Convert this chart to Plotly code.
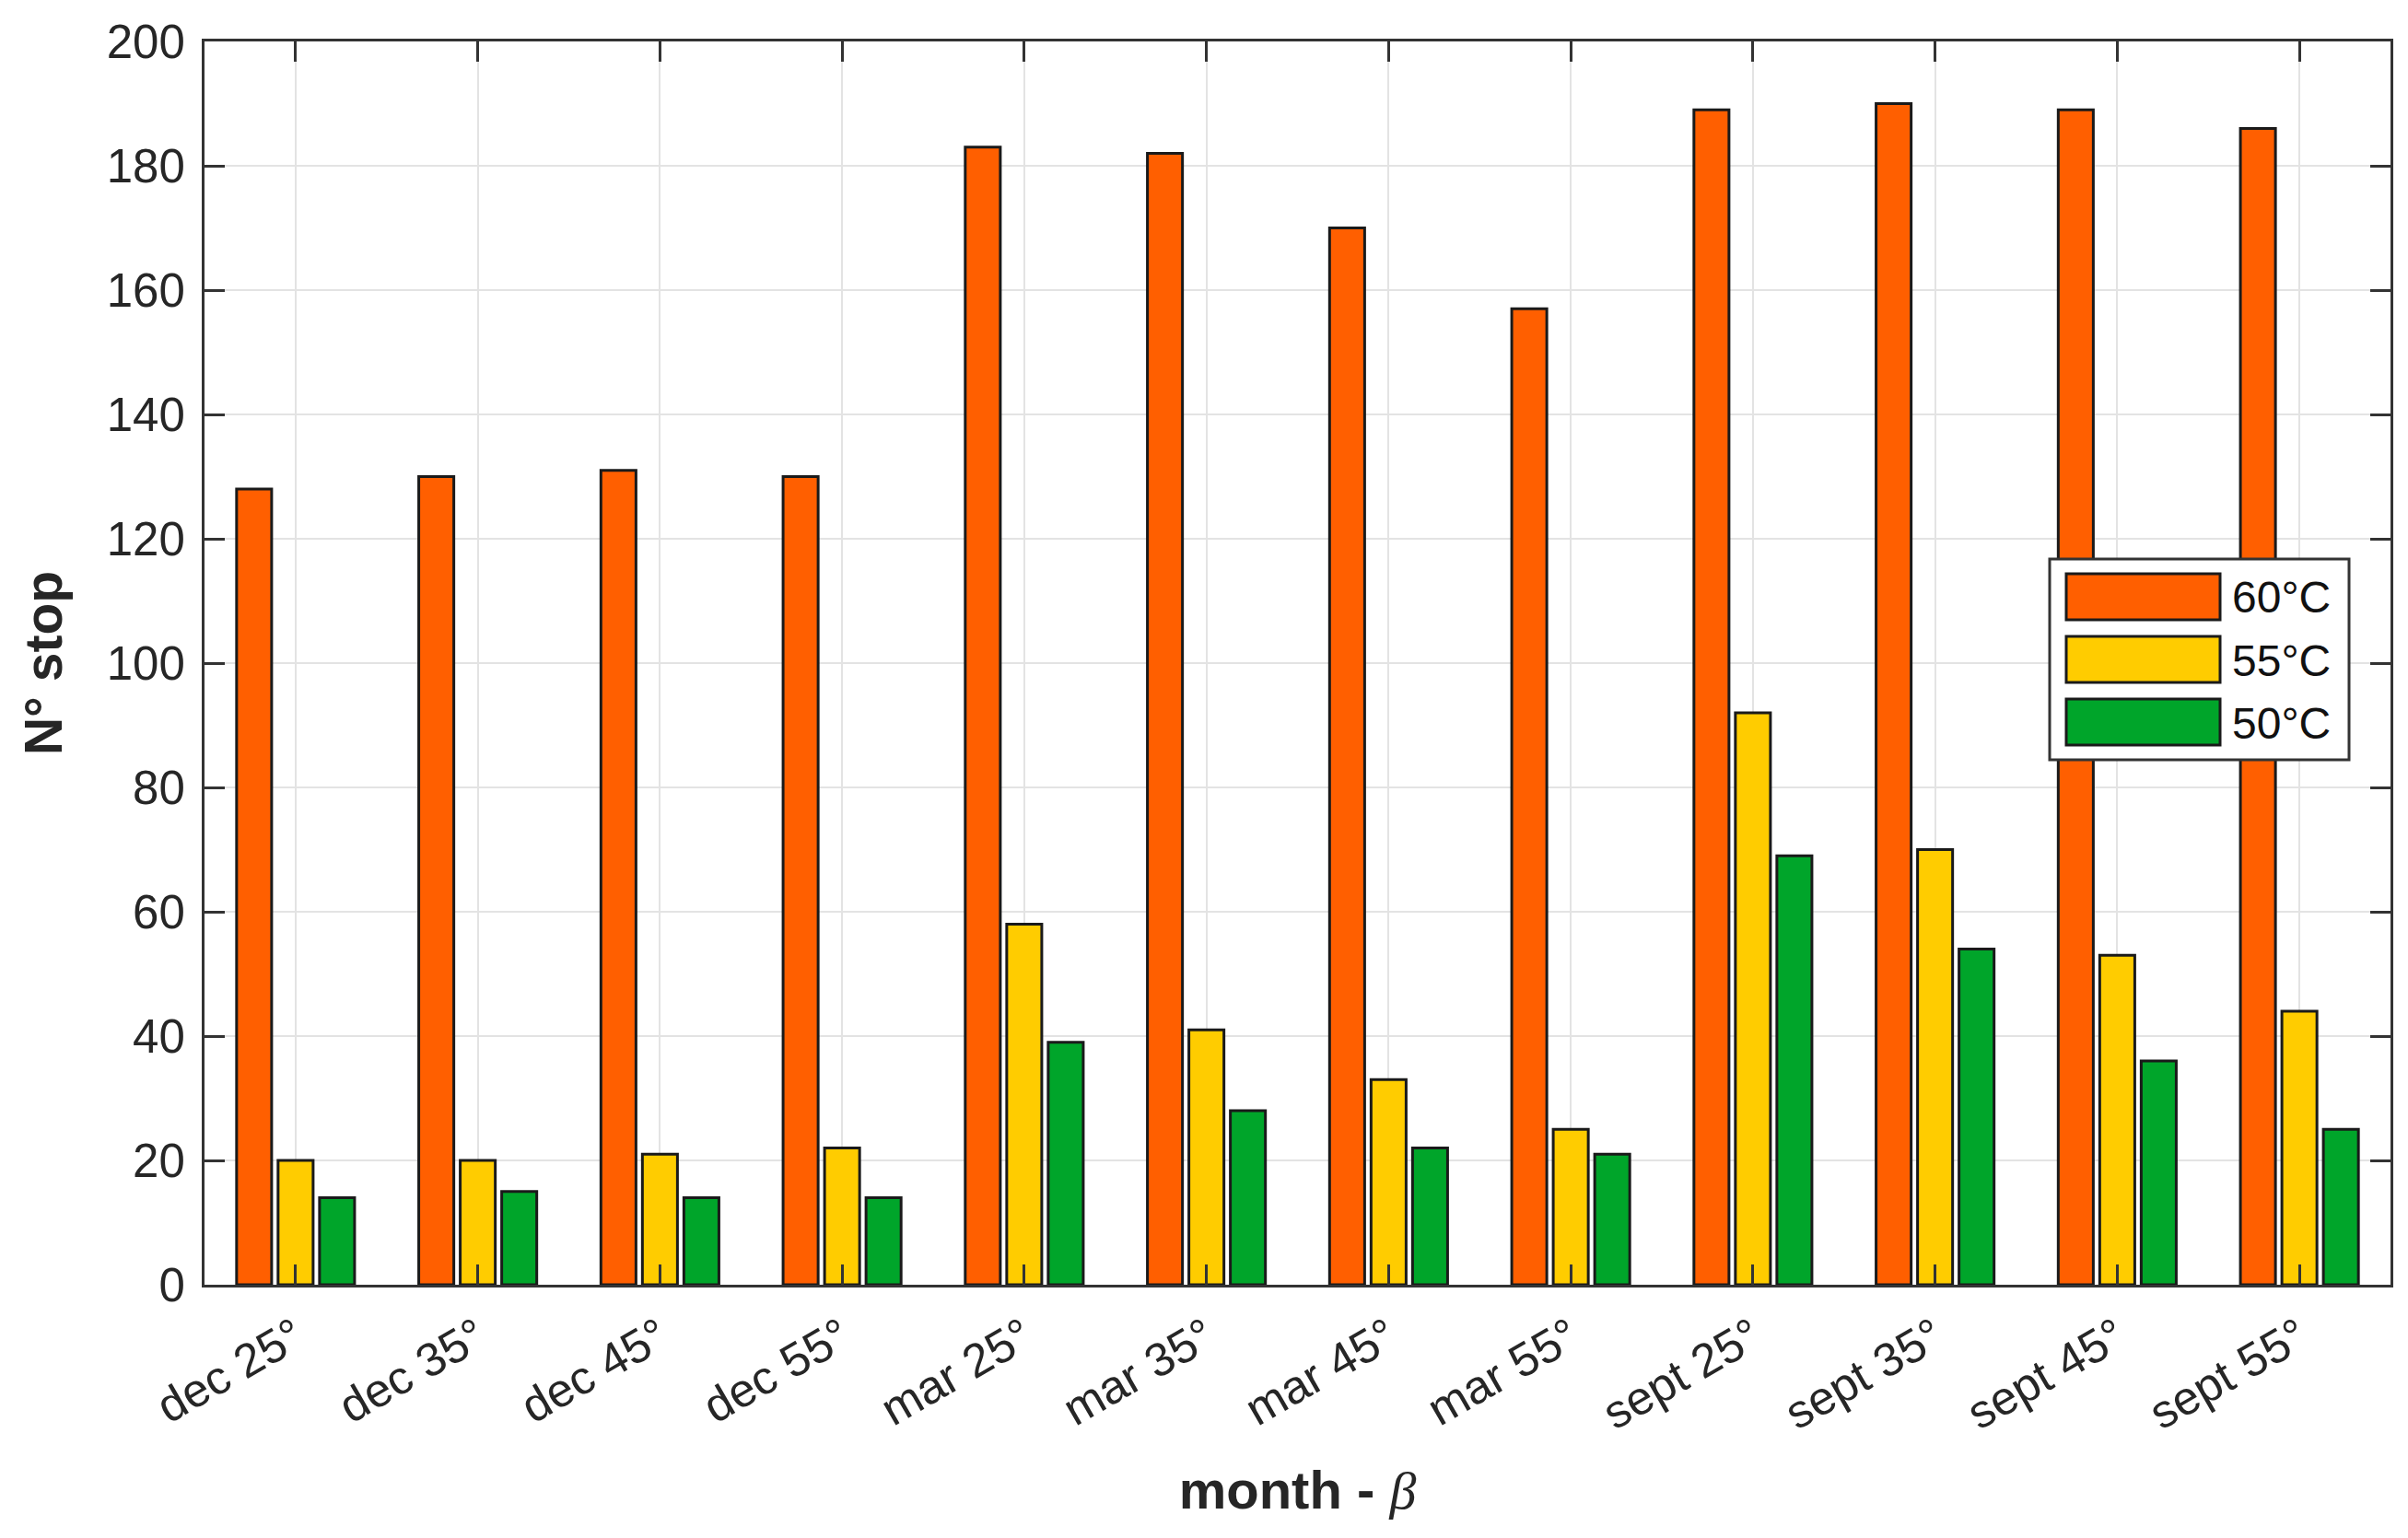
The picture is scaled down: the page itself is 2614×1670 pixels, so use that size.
import plotly.graph_objects as go

categories = ["dec 25°", "dec 35°", "dec 45°", "dec 55°",
              "mar 25°", "mar 35°", "mar 45°", "mar 55°",
              "sept 25°", "sept 35°", "sept 45°", "sept 55°"]
series_names = ["60°C", "55°C", "50°C"]
values_60 = [128, 130, 131, 130, 183, 182, 170, 157, 189, 190, 189, 186]
values_55 = [20, 20, 21, 22, 58, 41, 33, 25, 92, 70, 53, 44]
values_50 = [14, 15, 14, 14, 39, 28, 22, 21, 69, 54, 36, 25]
y_ticks = [0, 20, 40, 60, 80, 100, 120, 140, 160, 180, 200]

colors = ["#FF5F00", "#FFCC00", "#00A52A"]
series = [values_60, values_55, values_50]

W, H = 2614, 1670
L, R, T, B = 214, 27, 37, 283
FONT = "Liberation Sans, Arial, sans-serif"

fig = go.Figure()
for name, vals, col in zip(series_names, series, colors):
    fig.add_trace(go.Bar(
        x=categories, y=vals, name=name,
        marker=dict(color=col, line=dict(color="#1a1a1a", width=3)),
        showlegend=False,
    ))

axis_common = dict(
    showline=True, linecolor="#333333", linewidth=3, mirror="ticks",
    ticks="inside", ticklen=22, tickwidth=3, tickcolor="#333333",
    showgrid=True, gridcolor="#E3E3E3", gridwidth=2,
    zeroline=False,
    tickfont=dict(family=FONT, size=51, color="#262626"),
)

fig.update_layout(
    width=W, height=H,
    margin=dict(l=L, r=R, t=T, b=B, autoexpand=False),
    paper_bgcolor="white", plot_bgcolor="white",
    barmode="group", bargap=0.317, bargroupgap=0.155,
    font=dict(family=FONT, color="#262626"),
    xaxis=dict(
        **axis_common, tickangle=-30, type="category", automargin=False,
        ticklabelstandoff=4,
        title=dict(text="<b>month - </b><i><span style=\"font-family:Liberation Serif\">β</span></i>",
                   font=dict(family=FONT, size=58, color="#262626"), standoff=36),
    ),
    yaxis=dict(
        **axis_common, range=[0, 200], tickvals=y_ticks, automargin=False,
        ticklabelstandoff=8,
        title=dict(text="<b>N° stop</b>",
                   font=dict(family=FONT, size=57, color="#262626"), standoff=30),
    ),
)

# legend drawn in paper coordinates (pixel layout converted)
pw, ph = W - L - R, H - T - B
def px(X):
    return (X - L) / pw
def py(Y):
    return (H - B - Y) / ph

fig.add_shape(type="rect", xref="paper", yref="paper",
              x0=px(2217), x1=px(2542), y0=py(817), y1=py(599),
              line=dict(color="#333333", width=3), fillcolor="white", layer="above")
row_tops = [615, 683, 751]
for name, col, top in zip(series_names, colors, row_tops):
    fig.add_shape(type="rect", xref="paper", yref="paper",
                  x0=px(2235), x1=px(2402), y0=py(top + 50), y1=py(top),
                  line=dict(color="#1a1a1a", width=3), fillcolor=col, layer="above")
    fig.add_annotation(xref="paper", yref="paper", x=px(2413), y=py(top + 26),
                       text=name, showarrow=False, xanchor="left", yanchor="middle",
                       font=dict(family=FONT, size=48, color="#111111"))

fig.write_html("out.html")
